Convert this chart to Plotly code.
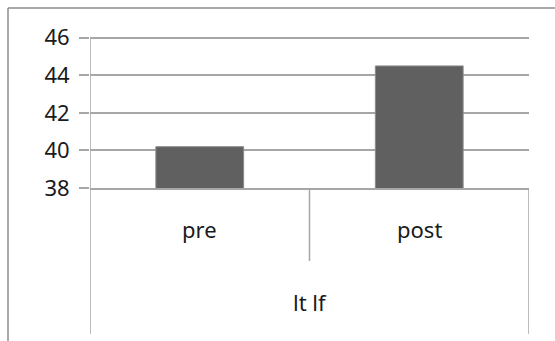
import plotly.graph_objects as go

# Data
categories = ["pre", "post"]
values = [40.2, 44.5]
group_label = "lt lf"
y_ticks = [38, 40, 42, 44, 46]

FONT = "Noto Sans"
FSIZE = 22
GRID = "#a6a6a6"
W, H = 555, 341
ML, MR, MT, MB = 90, 26, 34, 153
plot_w = W - ML - MR
plot_h = H - MT - MB

fig = go.Figure()
fig.add_trace(go.Bar(
    x=categories,
    y=values,
    marker=dict(color="#606060", line=dict(color="#8c8c8c", width=1)),
    hoverinfo="skip",
))

# category labels under the axis
annotations = [
    dict(x=c, y=-(229 - (H - MB)) / plot_h, xref="x", yref="paper", text=c,
         showarrow=False, font=dict(family=FONT, size=FSIZE, color="#1a1a1a"),
         xanchor="center", yanchor="middle")
    for c in categories
]
annotations.append(dict(x=0.5, y=-(302 - (H - MB)) / plot_h, xref="x", yref="paper",
                        text=group_label, showarrow=False,
                        font=dict(family=FONT, size=FSIZE, color="#1a1a1a"),
                        xanchor="center", yanchor="middle"))

# category dividers below the axis
n = len(categories)
shapes = []
outer_end = -(334 - (H - MB)) / plot_h
inner_end = -(261 - (H - MB)) / plot_h
for i in range(n + 1):
    xpos = i - 0.5
    y_end = outer_end if i in (0, n) else inner_end
    shapes.append(dict(type="line", xref="x", yref="paper", x0=xpos, x1=xpos,
                       y0=0, y1=y_end, line=dict(color=GRID, width=1.5)))

# chart frame (left and top edges)
fx0 = (8 - ML) / plot_w
fy0 = (H - MB - 8) / plot_h
shapes.append(dict(type="line", xref="paper", yref="paper", x0=fx0, x1=fx0,
                   y0=fy0, y1=-2, line=dict(color="#8c8c8c", width=1.5)))
shapes.append(dict(type="line", xref="paper", yref="paper", x0=fx0, x1=2,
                   y0=fy0, y1=fy0, line=dict(color="#8c8c8c", width=1.5)))

fig.update_layout(
    width=W, height=H,
    margin=dict(l=ML, r=MR, t=MT, b=MB),
    paper_bgcolor="white", plot_bgcolor="white",
    showlegend=False,
    bargap=0.6,
    annotations=annotations,
    shapes=shapes,
    xaxis=dict(type="category", range=[-0.5, n - 0.5], showticklabels=False,
               ticks="", showgrid=False, showline=True, linecolor=GRID, linewidth=1.5,
               zeroline=False, fixedrange=True),
    yaxis=dict(range=[38, 46.2], tickvals=y_ticks, ticks="outside", ticklen=10,
               tickcolor=GRID, tickwidth=1.5, showgrid=True, gridcolor=GRID, gridwidth=1.5,
               showline=False, zeroline=False,
               tickfont=dict(family=FONT, size=FSIZE, color="#1a1a1a"),
               ticklabelstandoff=5, fixedrange=True),
)

# vertical value axis line from the baseline up to the top tick
fig.add_shape(type="line", xref="x", yref="y", x0=-0.5, x1=-0.5, y0=y_ticks[0], y1=y_ticks[-1],
              line=dict(color=GRID, width=1.5))

fig.write_html("out.html", config={"displayModeBar": False})
